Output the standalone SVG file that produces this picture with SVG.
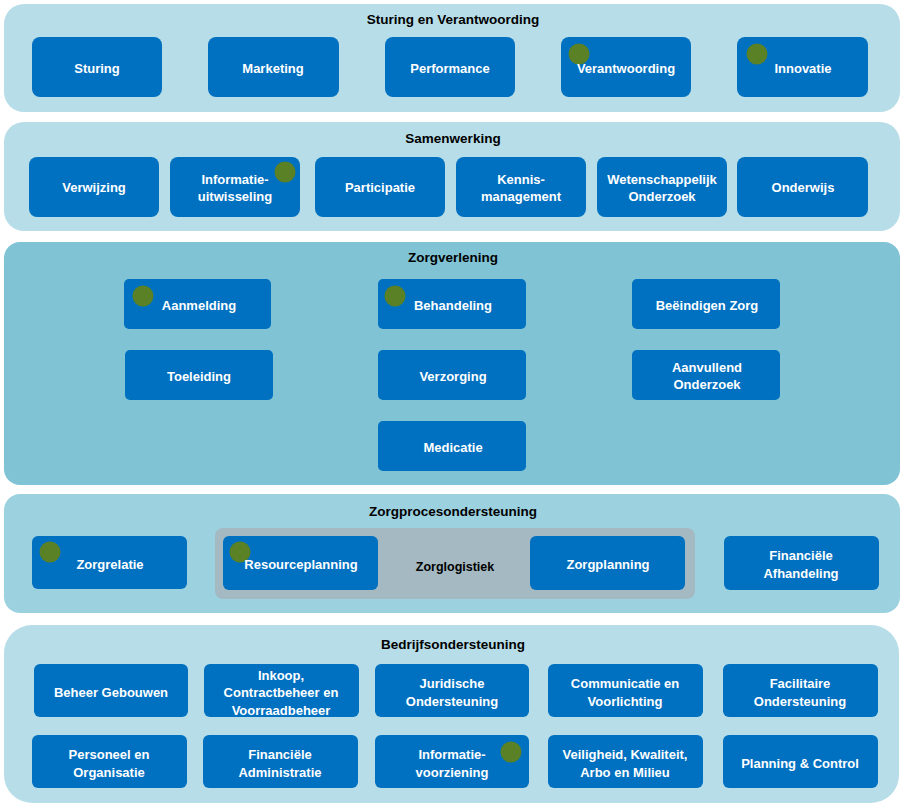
<svg xmlns="http://www.w3.org/2000/svg" width="907" height="808" viewBox="0 0 907 808">
<style>
.band{fill:#B7DEE8}
.band2{fill:#7FC3D5}
.band3{fill:#9CD1E0}
.box{fill:#0070C0}
.dot{fill:#5B8126}
.t{font-family:"Liberation Sans",Arial,sans-serif;font-weight:bold;font-size:13px;fill:#FFFFFF;text-anchor:middle;dominant-baseline:central}
.h{font-family:"Liberation Sans",Arial,sans-serif;font-weight:bold;font-size:13.5px;fill:#000000;text-anchor:middle;dominant-baseline:central}
</style>
<rect width="907" height="808" fill="#FFFFFF"/>
<g id="connectors"></g>

<g id="band-sturing">
<rect class="band" x="4" y="4" width="896" height="108" rx="20"/>
<text class="h" x="453" y="19">Sturing en Verantwoording</text>
</g>
<g id="sturing"><rect class="box" x="32" y="37" width="130" height="60" rx="8"/><text class="t" x="97" y="68">Sturing</text></g>
<g id="marketing"><rect class="box" x="208" y="37" width="131" height="60" rx="8"/><text class="t" x="273" y="68">Marketing</text></g>
<g id="performance"><rect class="box" x="385" y="37" width="130" height="60" rx="8"/><text class="t" x="450" y="68">Performance</text></g>
<g id="verantwoording"><rect class="box" x="561" y="37" width="130" height="60" rx="8"/><circle class="dot" cx="579" cy="54" r="10.5"/><text class="t" x="626" y="68">Verantwoording</text></g>
<g id="innovatie"><rect class="box" x="737" y="37" width="131" height="60" rx="8"/><circle class="dot" cx="757" cy="54" r="10.5"/><text class="t" x="803" y="68">Innovatie</text></g>

<g id="band-samenwerking">
<rect class="band" x="4" y="122" width="896" height="109" rx="20"/>
<text class="h" x="453" y="138">Samenwerking</text>
</g>
<g id="verwijzing"><rect class="box" x="29" y="157" width="130" height="60" rx="8"/><text class="t" x="94" y="187">Verwijzing</text></g>
<g id="informatie-uitwisseling"><rect class="box" x="170" y="157" width="130" height="60" rx="8"/><circle class="dot" cx="285" cy="172" r="10.5"/><text class="t" x="235" y="179">Informatie-</text><text class="t" x="235" y="196">uitwisseling</text></g>
<g id="participatie"><rect class="box" x="315" y="157" width="130" height="60" rx="8"/><text class="t" x="380" y="187">Participatie</text></g>
<g id="kennismanagement"><rect class="box" x="456" y="157" width="130" height="60" rx="8"/><text class="t" x="521" y="179">Kennis-</text><text class="t" x="521" y="196">management</text></g>
<g id="wetenschappelijk"><rect class="box" x="597" y="157" width="130" height="60" rx="8"/><text class="t" x="662" y="179">Wetenschappelijk</text><text class="t" x="662" y="196">Onderzoek</text></g>
<g id="onderwijs"><rect class="box" x="737" y="157" width="131" height="60" rx="8"/><text class="t" x="803" y="187">Onderwijs</text></g>

<g id="band-zorgverlening">
<rect class="band2" x="4" y="242" width="896" height="243" rx="16"/>
<text class="h" x="453" y="257">Zorgverlening</text>
</g>
<g id="aanmelding"><rect class="box" x="124" y="279" width="147" height="50" rx="5"/><circle class="dot" cx="143" cy="296" r="10.5"/><text class="t" x="199" y="305">Aanmelding</text></g>
<g id="behandeling"><rect class="box" x="378" y="279" width="148" height="50" rx="5"/><circle class="dot" cx="395" cy="296" r="10.5"/><text class="t" x="453" y="305">Behandeling</text></g>
<g id="beeindigen"><rect class="box" x="632" y="279" width="148" height="50" rx="5"/><text class="t" x="707" y="305">Beëindigen Zorg</text></g>
<g id="toeleiding"><rect class="box" x="125" y="350" width="148" height="50" rx="5"/><text class="t" x="199" y="376">Toeleiding</text></g>
<g id="verzorging"><rect class="box" x="378" y="350" width="148" height="50" rx="5"/><text class="t" x="453" y="376">Verzorging</text></g>
<g id="aanvullend"><rect class="box" x="632" y="350" width="148" height="50" rx="5"/><text class="t" x="707" y="367">Aanvullend</text><text class="t" x="707" y="384">Onderzoek</text></g>
<g id="medicatie"><rect class="box" x="378" y="421" width="148" height="50" rx="5"/><text class="t" x="453" y="447">Medicatie</text></g>

<g id="band-zorgproces">
<rect class="band3" x="4" y="494" width="896" height="119" rx="16"/>
<text class="h" x="453" y="511">Zorgprocesondersteuning</text>
</g>
<g id="zorglogistiek">
<rect x="215" y="528" width="480" height="71" rx="8" fill="#A4B9C1"/>
<text class="h" x="455" y="567" style="font-size:12.5px">Zorglogistiek</text>
</g>
<g id="zorgrelatie"><rect class="box" x="32" y="536" width="155" height="53" rx="6"/><circle class="dot" cx="50" cy="552" r="10.5"/><text class="t" x="110" y="564">Zorgrelatie</text></g>
<g id="resourceplanning"><rect class="box" x="223" y="536" width="155" height="54" rx="6"/><circle class="dot" cx="240" cy="552" r="10.5"/><text class="t" x="301" y="564">Resourceplanning</text></g>
<g id="zorgplanning"><rect class="box" x="530" y="536" width="155" height="54" rx="6"/><text class="t" x="608" y="564">Zorgplanning</text></g>
<g id="financiele-afhandeling"><rect class="box" x="724" y="536" width="155" height="54" rx="6"/><text class="t" x="801" y="555">Financiële</text><text class="t" x="801" y="573">Afhandeling</text></g>

<g id="band-bedrijf">
<rect class="band" x="4" y="625" width="895" height="178" rx="28"/>
<text class="h" x="453" y="644">Bedrijfsondersteuning</text>
</g>
<g id="beheer-gebouwen"><rect class="box" x="34" y="664" width="154" height="53" rx="6"/><text class="t" x="111" y="692">Beheer Gebouwen</text></g>
<g id="inkoop"><rect class="box" x="204" y="664" width="155" height="53" rx="6"/><text class="t" x="281" y="675">Inkoop,</text><text class="t" x="281" y="692">Contractbeheer en</text><text class="t" x="281" y="710">Voorraadbeheer</text></g>
<g id="juridische"><rect class="box" x="375" y="664" width="154" height="53" rx="6"/><text class="t" x="452" y="683">Juridische</text><text class="t" x="452" y="701">Ondersteuning</text></g>
<g id="communicatie"><rect class="box" x="548" y="664" width="155" height="53" rx="6"/><text class="t" x="625" y="683">Communicatie en</text><text class="t" x="625" y="701">Voorlichting</text></g>
<g id="facilitaire"><rect class="box" x="723" y="664" width="155" height="53" rx="6"/><text class="t" x="800" y="683">Facilitaire</text><text class="t" x="800" y="701">Ondersteuning</text></g>
<g id="personeel"><rect class="box" x="32" y="735" width="155" height="53" rx="6"/><text class="t" x="109" y="754">Personeel en</text><text class="t" x="109" y="772">Organisatie</text></g>
<g id="financiele-administratie"><rect class="box" x="203" y="735" width="155" height="53" rx="6"/><text class="t" x="280" y="754">Financiële</text><text class="t" x="280" y="772">Administratie</text></g>
<g id="informatievoorziening"><rect class="box" x="375" y="735" width="154" height="53" rx="6"/><circle class="dot" cx="511" cy="752" r="10.5"/><text class="t" x="452" y="754">Informatie-</text><text class="t" x="452" y="772">voorziening</text></g>
<g id="veiligheid"><rect class="box" x="548" y="735" width="155" height="53" rx="6"/><text class="t" x="625" y="754">Veiligheid, Kwaliteit,</text><text class="t" x="625" y="772">Arbo en Milieu</text></g>
<g id="planning-control"><rect class="box" x="723" y="735" width="155" height="53" rx="6"/><text class="t" x="800" y="763">Planning &amp; Control</text></g>
</svg>
